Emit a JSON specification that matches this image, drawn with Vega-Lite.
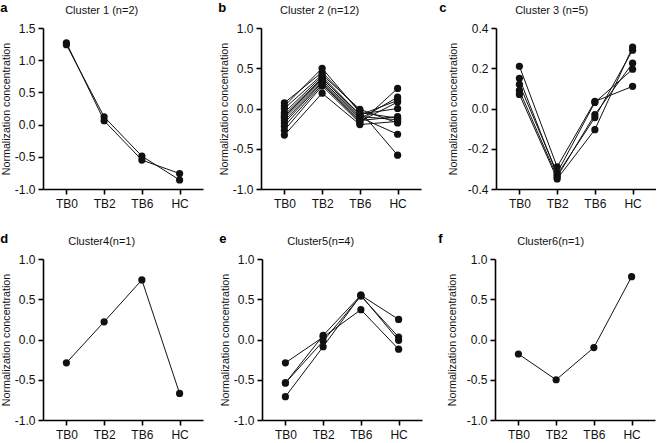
{
  "$schema": "https://vega.github.io/schema/vega-lite/v6.json",
  "padding": {"left": 0, "top": 2, "right": 0, "bottom": 0},
  "config": {
    "font": "Liberation Sans",
    "view": {"stroke": null},
    "axis": {"domainColor": "#000", "domainWidth": 1.6, "tickColor": "#000", "tickWidth": 1.6, "tickSize": 5, "labelColor": "#111", "labelFontSize": 12, "labelPadding": 3, "grid": false, "titleColor": "#111", "titleFontSize": 10.7, "titleFontWeight": "normal", "titlePadding": 3},
    "axisX": {"title": null, "labelAngle": 0, "labelPadding": 4},
    "title": {"fontSize": 11, "fontWeight": "normal", "color": "#111", "anchor": "middle", "frame": "bounds", "offset": 6}
  },
  "datasets": {
    "d": [
      {"cluster": 1, "series": 1, "time": "TB0", "value": 1.24}, {"cluster": 1, "series": 1, "time": "TB2", "value": 0.12}, {"cluster": 1, "series": 1, "time": "TB6", "value": -0.49}, {"cluster": 1, "series": 1, "time": "HC", "value": -0.86},
      {"cluster": 1, "series": 2, "time": "TB0", "value": 1.27}, {"cluster": 1, "series": 2, "time": "TB2", "value": 0.06}, {"cluster": 1, "series": 2, "time": "TB6", "value": -0.55}, {"cluster": 1, "series": 2, "time": "HC", "value": -0.76},

      {"cluster": 2, "series": 1, "time": "TB0", "value": 0.07}, {"cluster": 2, "series": 1, "time": "TB2", "value": 0.45}, {"cluster": 2, "series": 1, "time": "TB6", "value": -0.03}, {"cluster": 2, "series": 1, "time": "HC", "value": -0.58},
      {"cluster": 2, "series": 2, "time": "TB0", "value": 0.03}, {"cluster": 2, "series": 2, "time": "TB2", "value": 0.50}, {"cluster": 2, "series": 2, "time": "TB6", "value": -0.05}, {"cluster": 2, "series": 2, "time": "HC", "value": -0.12},
      {"cluster": 2, "series": 3, "time": "TB0", "value": 0.00}, {"cluster": 2, "series": 3, "time": "TB2", "value": 0.42}, {"cluster": 2, "series": 3, "time": "TB6", "value": -0.01}, {"cluster": 2, "series": 3, "time": "HC", "value": -0.18},
      {"cluster": 2, "series": 4, "time": "TB0", "value": -0.05}, {"cluster": 2, "series": 4, "time": "TB2", "value": 0.40}, {"cluster": 2, "series": 4, "time": "TB6", "value": -0.08}, {"cluster": 2, "series": 4, "time": "HC", "value": 0.10},
      {"cluster": 2, "series": 5, "time": "TB0", "value": -0.08}, {"cluster": 2, "series": 5, "time": "TB2", "value": 0.38}, {"cluster": 2, "series": 5, "time": "TB6", "value": -0.10}, {"cluster": 2, "series": 5, "time": "HC", "value": -0.14},
      {"cluster": 2, "series": 6, "time": "TB0", "value": -0.10}, {"cluster": 2, "series": 6, "time": "TB2", "value": 0.37}, {"cluster": 2, "series": 6, "time": "TB6", "value": -0.07}, {"cluster": 2, "series": 6, "time": "HC", "value": 0.00},
      {"cluster": 2, "series": 7, "time": "TB0", "value": -0.12}, {"cluster": 2, "series": 7, "time": "TB2", "value": 0.35}, {"cluster": 2, "series": 7, "time": "TB6", "value": -0.11}, {"cluster": 2, "series": 7, "time": "HC", "value": -0.32},
      {"cluster": 2, "series": 8, "time": "TB0", "value": -0.15}, {"cluster": 2, "series": 8, "time": "TB2", "value": 0.33}, {"cluster": 2, "series": 8, "time": "TB6", "value": -0.13}, {"cluster": 2, "series": 8, "time": "HC", "value": 0.14},
      {"cluster": 2, "series": 9, "time": "TB0", "value": -0.18}, {"cluster": 2, "series": 9, "time": "TB2", "value": 0.32}, {"cluster": 2, "series": 9, "time": "TB6", "value": -0.15}, {"cluster": 2, "series": 9, "time": "HC", "value": -0.10},
      {"cluster": 2, "series": 10, "time": "TB0", "value": -0.22}, {"cluster": 2, "series": 10, "time": "TB2", "value": 0.30}, {"cluster": 2, "series": 10, "time": "TB6", "value": -0.16}, {"cluster": 2, "series": 10, "time": "HC", "value": 0.08},
      {"cluster": 2, "series": 11, "time": "TB0", "value": -0.27}, {"cluster": 2, "series": 11, "time": "TB2", "value": 0.28}, {"cluster": 2, "series": 11, "time": "TB6", "value": -0.18}, {"cluster": 2, "series": 11, "time": "HC", "value": 0.25},
      {"cluster": 2, "series": 12, "time": "TB0", "value": -0.33}, {"cluster": 2, "series": 12, "time": "TB2", "value": 0.19}, {"cluster": 2, "series": 12, "time": "TB6", "value": -0.20}, {"cluster": 2, "series": 12, "time": "HC", "value": -0.16},

      {"cluster": 3, "series": 1, "time": "TB0", "value": 0.21}, {"cluster": 3, "series": 1, "time": "TB2", "value": -0.29}, {"cluster": 3, "series": 1, "time": "TB6", "value": 0.035}, {"cluster": 3, "series": 1, "time": "HC", "value": 0.11},
      {"cluster": 3, "series": 2, "time": "TB0", "value": 0.15}, {"cluster": 3, "series": 2, "time": "TB2", "value": -0.33}, {"cluster": 3, "series": 2, "time": "TB6", "value": -0.045}, {"cluster": 3, "series": 2, "time": "HC", "value": 0.29},
      {"cluster": 3, "series": 3, "time": "TB0", "value": 0.12}, {"cluster": 3, "series": 3, "time": "TB2", "value": -0.32}, {"cluster": 3, "series": 3, "time": "TB6", "value": 0.03}, {"cluster": 3, "series": 3, "time": "HC", "value": 0.195},
      {"cluster": 3, "series": 4, "time": "TB0", "value": 0.09}, {"cluster": 3, "series": 4, "time": "TB2", "value": -0.34}, {"cluster": 3, "series": 4, "time": "TB6", "value": -0.03}, {"cluster": 3, "series": 4, "time": "HC", "value": 0.225},
      {"cluster": 3, "series": 5, "time": "TB0", "value": 0.07}, {"cluster": 3, "series": 5, "time": "TB2", "value": -0.35}, {"cluster": 3, "series": 5, "time": "TB6", "value": -0.105}, {"cluster": 3, "series": 5, "time": "HC", "value": 0.305},

      {"cluster": 4, "series": 1, "time": "TB0", "value": -0.29}, {"cluster": 4, "series": 1, "time": "TB2", "value": 0.22}, {"cluster": 4, "series": 1, "time": "TB6", "value": 0.74}, {"cluster": 4, "series": 1, "time": "HC", "value": -0.67},

      {"cluster": 5, "series": 1, "time": "TB0", "value": -0.29}, {"cluster": 5, "series": 1, "time": "TB2", "value": 0.03}, {"cluster": 5, "series": 1, "time": "TB6", "value": 0.37}, {"cluster": 5, "series": 1, "time": "HC", "value": -0.12},
      {"cluster": 5, "series": 2, "time": "TB0", "value": -0.54}, {"cluster": 5, "series": 2, "time": "TB2", "value": 0.05}, {"cluster": 5, "series": 2, "time": "TB6", "value": 0.55}, {"cluster": 5, "series": 2, "time": "HC", "value": 0.25},
      {"cluster": 5, "series": 3, "time": "TB0", "value": -0.54}, {"cluster": 5, "series": 3, "time": "TB2", "value": -0.02}, {"cluster": 5, "series": 3, "time": "TB6", "value": 0.54}, {"cluster": 5, "series": 3, "time": "HC", "value": 0.03},
      {"cluster": 5, "series": 4, "time": "TB0", "value": -0.71}, {"cluster": 5, "series": 4, "time": "TB2", "value": -0.09}, {"cluster": 5, "series": 4, "time": "TB6", "value": 0.55}, {"cluster": 5, "series": 4, "time": "HC", "value": -0.01},

      {"cluster": 6, "series": 1, "time": "TB0", "value": -0.18}, {"cluster": 6, "series": 1, "time": "TB2", "value": -0.50}, {"cluster": 6, "series": 1, "time": "TB6", "value": -0.10}, {"cluster": 6, "series": 1, "time": "HC", "value": 0.78}
    ]
  },
  "vconcat": [
    {
      "hconcat": [
        {
          "hconcat": [
            {
              "title": {"text": "a", "anchor": "start", "fontWeight": "bold", "fontSize": 13, "offset": -10, "color": "#000"},
              "vconcat": [{
                "width": 160, "height": 161,
                "title": "Cluster 1 (n=2)",
                "data": {"name": "d"},
                "transform": [{"filter": "datum.cluster == 1"}],
                "encoding": {
                  "x": {"field": "time", "type": "ordinal", "sort": ["TB0", "TB2", "TB6", "HC"], "scale": {"type": "point", "padding": 0.62}},
                  "y": {"field": "value", "type": "quantitative", "scale": {"domain": [-1, 1.5], "nice": false, "zero": false}, "axis": {"values": [-1, -0.5, 0, 0.5, 1, 1.5], "labelExpr": "(datum.value < 0 ? '-' : '') + format(abs(datum.value), '.1f')", "title": "Normalization concentration"}},
                  "detail": {"field": "series"}
                },
                "layer": [
                  {"mark": {"type": "line", "color": "#111", "strokeWidth": 1}},
                  {"mark": {"type": "circle", "color": "#111", "size": 52, "opacity": 1}}
                ]
              }]
            },
            {
              "title": {"text": "b", "anchor": "start", "fontWeight": "bold", "fontSize": 13, "offset": -10, "color": "#000"},
              "vconcat": [{
                "width": 160, "height": 161,
                "title": "Cluster 2 (n=12)",
                "data": {"name": "d"},
                "transform": [{"filter": "datum.cluster == 2"}],
                "encoding": {
                  "x": {"field": "time", "type": "ordinal", "sort": ["TB0", "TB2", "TB6", "HC"], "scale": {"type": "point", "padding": 0.62}},
                  "y": {"field": "value", "type": "quantitative", "scale": {"domain": [-1, 1], "nice": false, "zero": false}, "axis": {"values": [-1, -0.5, 0, 0.5, 1], "labelExpr": "(datum.value < 0 ? '-' : '') + format(abs(datum.value), '.1f')", "title": "Normalization concentration"}},
                  "detail": {"field": "series"}
                },
                "layer": [
                  {"mark": {"type": "line", "color": "#111", "strokeWidth": 1}},
                  {"mark": {"type": "circle", "color": "#111", "size": 52, "opacity": 1}}
                ]
              }]
            }
          ],
          "spacing": 15
        },
        {
          "title": {"text": "c", "anchor": "start", "fontWeight": "bold", "fontSize": 13, "offset": -10, "color": "#000", "dx": -8},
          "vconcat": [{
            "width": 160, "height": 161,
            "title": "Cluster 3 (n=5)",
            "data": {"name": "d"},
            "transform": [{"filter": "datum.cluster == 3"}],
            "encoding": {
              "x": {"field": "time", "type": "ordinal", "sort": ["TB0", "TB2", "TB6", "HC"], "scale": {"type": "point", "padding": 0.62}},
              "y": {"field": "value", "type": "quantitative", "scale": {"domain": [-0.4, 0.4], "nice": false, "zero": false}, "axis": {"values": [-0.4, -0.2, 0, 0.2, 0.4], "labelExpr": "(datum.value < 0 ? '-' : '') + format(abs(datum.value), '.1f')", "title": "Normalization concentration", "titlePadding": 9}},
              "detail": {"field": "series"}
            },
            "layer": [
              {"mark": {"type": "line", "color": "#111", "strokeWidth": 1}},
              {"mark": {"type": "circle", "color": "#111", "size": 52, "opacity": 1}}
            ]
          }]
        }
      ],
      "spacing": 18
    },
    {
      "hconcat": [
        {
          "hconcat": [
            {
              "title": {"text": "d", "anchor": "start", "fontWeight": "bold", "fontSize": 13, "offset": -10, "color": "#000"},
              "vconcat": [{
                "width": 160, "height": 161,
                "title": "Cluster4(n=1)",
                "data": {"name": "d"},
                "transform": [{"filter": "datum.cluster == 4"}],
                "encoding": {
                  "x": {"field": "time", "type": "ordinal", "sort": ["TB0", "TB2", "TB6", "HC"], "scale": {"type": "point", "padding": 0.62}},
                  "y": {"field": "value", "type": "quantitative", "scale": {"domain": [-1, 1], "nice": false, "zero": false}, "axis": {"values": [-1, -0.5, 0, 0.5, 1], "labelExpr": "(datum.value < 0 ? '-' : '') + format(abs(datum.value), '.1f')", "title": "Normalization concentration"}},
                  "detail": {"field": "series"}
                },
                "layer": [
                  {"mark": {"type": "line", "color": "#111", "strokeWidth": 1}},
                  {"mark": {"type": "circle", "color": "#111", "size": 52, "opacity": 1}}
                ]
              }]
            },
            {
              "title": {"text": "e", "anchor": "start", "fontWeight": "bold", "fontSize": 13, "offset": -10, "color": "#000"},
              "vconcat": [{
                "width": 160, "height": 161,
                "title": "Cluster5(n=4)",
                "data": {"name": "d"},
                "transform": [{"filter": "datum.cluster == 5"}],
                "encoding": {
                  "x": {"field": "time", "type": "ordinal", "sort": ["TB0", "TB2", "TB6", "HC"], "scale": {"type": "point", "padding": 0.62}},
                  "y": {"field": "value", "type": "quantitative", "scale": {"domain": [-1, 1], "nice": false, "zero": false}, "axis": {"values": [-1, -0.5, 0, 0.5, 1], "labelExpr": "(datum.value < 0 ? '-' : '') + format(abs(datum.value), '.1f')", "title": "Normalization concentration"}},
                  "detail": {"field": "series"}
                },
                "layer": [
                  {"mark": {"type": "line", "color": "#111", "strokeWidth": 1}},
                  {"mark": {"type": "circle", "color": "#111", "size": 52, "opacity": 1}}
                ]
              }]
            }
          ],
          "spacing": 16
        },
        {
          "title": {"text": "f", "anchor": "start", "fontWeight": "bold", "fontSize": 13, "offset": -10, "color": "#000", "dx": -8},
          "vconcat": [{
            "width": 160, "height": 161,
            "title": "Cluster6(n=1)",
            "data": {"name": "d"},
            "transform": [{"filter": "datum.cluster == 6"}],
            "encoding": {
              "x": {"field": "time", "type": "ordinal", "sort": ["TB0", "TB2", "TB6", "HC"], "scale": {"type": "point", "padding": 0.62}},
              "y": {"field": "value", "type": "quantitative", "scale": {"domain": [-1, 1], "nice": false, "zero": false}, "axis": {"values": [-1, -0.5, 0, 0.5, 1], "labelExpr": "(datum.value < 0 ? '-' : '') + format(abs(datum.value), '.1f')", "title": "Normalization concentration", "titlePadding": 9}},
              "detail": {"field": "series"}
            },
            "layer": [
              {"mark": {"type": "line", "color": "#111", "strokeWidth": 1}},
              {"mark": {"type": "circle", "color": "#111", "size": 52, "opacity": 1}}
            ]
          }]
        }
      ],
      "spacing": 16
    }
  ],
  "spacing": 24
}
